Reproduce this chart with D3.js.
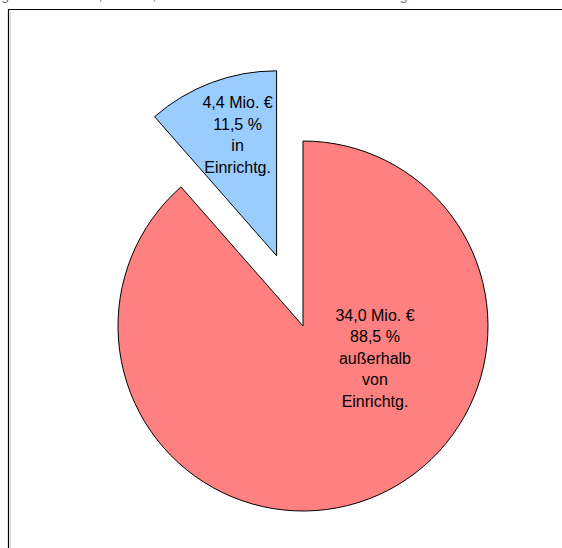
<!DOCTYPE html>
<html lang="de">
<head>
  <meta charset="UTF-8">
  <title>Ausgaben in und außerhalb von Einrichtungen</title>
  <script src="https://d3js.org/d3.v7.min.js"></script>
  <style>
    body { margin: 0; background: #fff; }
    svg { display: block; font-family: "Liberation Sans", Arial, sans-serif; }
  </style>
</head>
<body>
  <div id="chart"></div>
  <script>
    const categories = ["in Einrichtg.", "außerhalb von Einrichtg."];
    const values = [4.4, 34.0];
    const percents = ["11,5 %", "88,5 %"];
    const labelLines = [
      ["4,4 Mio. €", "11,5 %", "in", "Einrichtg."],
      ["34,0 Mio. €", "88,5 %", "außerhalb", "von", "Einrichtg."]
    ];
    const colors = ["#99CCFF", "#FF8080"];

    const width = 562;
    const height = 548;
    const cx = 303, cy = 326, radius = 185;
    const explode = 75;

    const svg = d3.select("#chart")
      .append("svg")
      .attr("width", width)
      .attr("height", height);

    // title (cut off at the top of the picture)
    svg.append("text")
      .attr("x", 200)
      .attr("y", 0)
      .attr("text-anchor", "middle")
      .style("font-size", "14px")
      .style("fill", "#777")
      .text("Ausgaben 2005: 38,4 Mio. €, davon in und außerhalb von Einrichtungen");

    // plot frame
    svg.append("path")
      .attr("d", `M8.5,${height} V9.5 H${width}`)
      .attr("fill", "none")
      .attr("stroke", "#000")
      .attr("stroke-width", 1.2);
    svg.append("line")
      .attr("x1", 10.5).attr("x2", 10.5)
      .attr("y1", 11).attr("y2", height)
      .attr("stroke", "#ddd");

    const share0 = values[0] / d3.sum(values);
    const pie = d3.pie()
      .sort(null)
      .startAngle(-2 * Math.PI * share0)
      .endAngle(2 * Math.PI - 2 * Math.PI * share0)
      .value(d => d);

    const arcs = pie(values);
    const arc = d3.arc().innerRadius(0).outerRadius(radius);

    const g = svg.append("g").attr("transform", `translate(${cx},${cy})`);

    const slices = g.selectAll("g.slice")
      .data(arcs)
      .enter().append("g")
      .attr("class", "slice")
      .attr("transform", (d, i) => {
        if (i !== 0) return null;
        const mid = (d.startAngle + d.endAngle) / 2;
        return `translate(${Math.sin(mid) * explode},${-Math.cos(mid) * explode})`;
      });

    slices.append("path")
      .attr("d", arc)
      .attr("fill", (d, i) => colors[i])
      .attr("stroke", "#000")
      .attr("stroke-width", 1);

    // labels (offsets from the slice's own origin)
    const lineH = 21.5;
    const labelPos = [[-39, -121], [72, 32]];

    slices.each(function(d, i) {
      const [lx, ly] = labelPos[i];
      const lines = labelLines[i];
      const t = d3.select(this).append("text")
        .attr("text-anchor", "middle")
        .style("font-size", "16px")
        .style("fill", "#000");
      lines.forEach((ln, k) => {
        t.append("tspan")
          .attr("x", lx)
          .attr("y", ly + (k - (lines.length - 1) / 2) * lineH + 5.5)
          .text(ln);
      });
    });
  </script>
</body>
</html>
